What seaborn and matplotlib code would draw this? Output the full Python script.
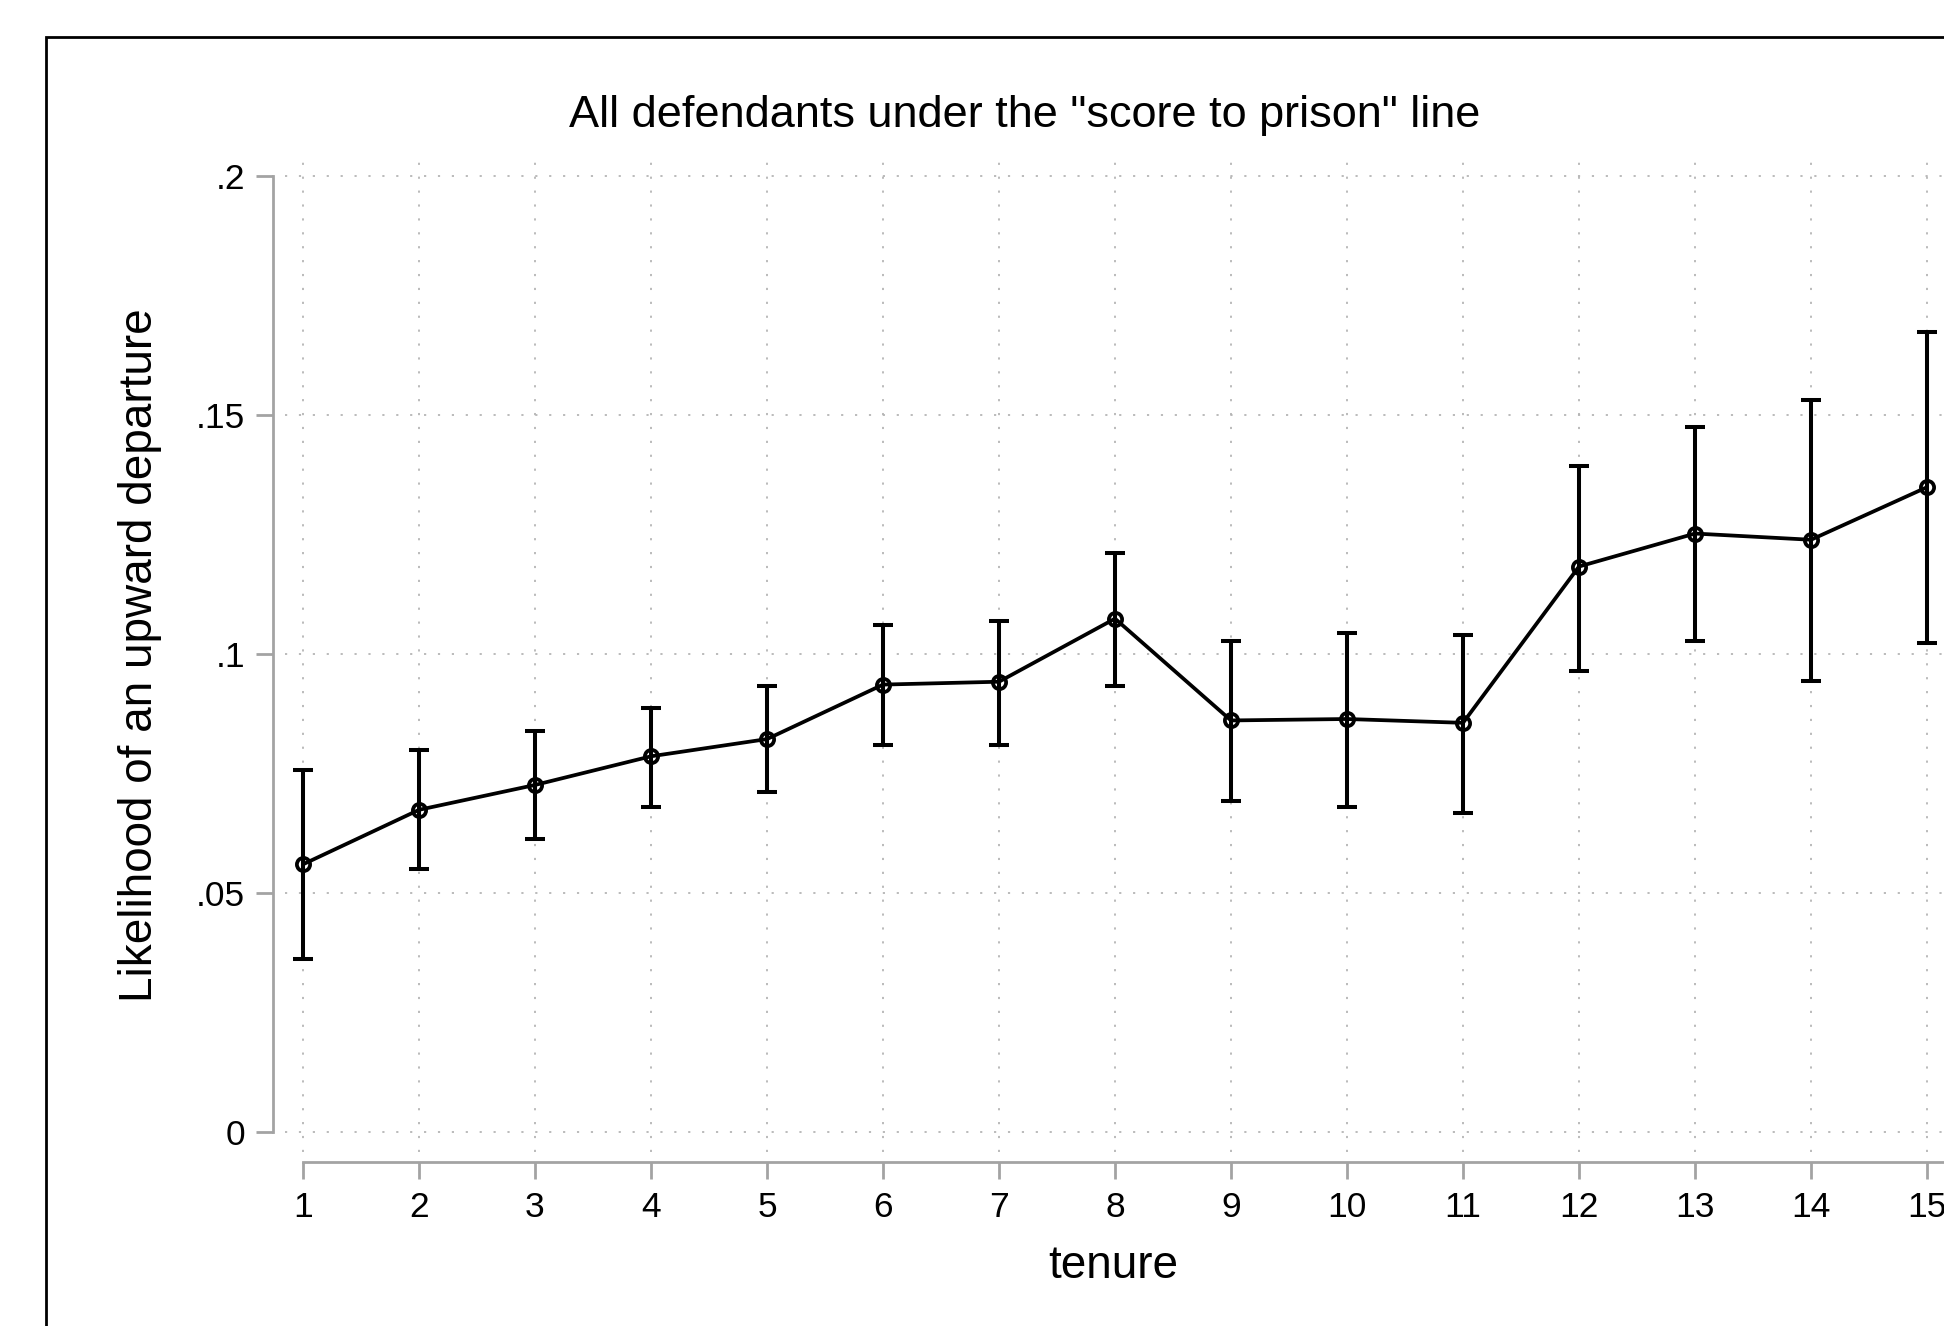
import matplotlib
matplotlib.use("Agg")
import matplotlib.pyplot as plt
import seaborn as sns
import pandas as pd
from matplotlib.patches import Rectangle

tenure = list(range(1, 16))
estimate = [0.0560, 0.0674, 0.0726, 0.0786, 0.0822, 0.0936, 0.0942, 0.1074,
            0.0861, 0.0864, 0.0856, 0.1183, 0.1252, 0.1239, 0.1349]
ci_upper = [0.0757, 0.0799, 0.0838, 0.0887, 0.0934, 0.1061, 0.1069, 0.1211,
            0.1027, 0.1044, 0.1039, 0.1393, 0.1474, 0.1532, 0.1674]
ci_lower = [0.0361, 0.0550, 0.0612, 0.0680, 0.0711, 0.0809, 0.0809, 0.0934,
            0.0693, 0.0680, 0.0668, 0.0965, 0.1027, 0.0943, 0.1024]
y_ticks = [0, 0.05, 0.1, 0.15, 0.2]
y_ticklabels = ["0", ".05", ".1", ".15", ".2"]
title = 'All defendants under the "score to prison" line'
xlabel = "tenure"
ylabel = "Likelihood of an upward departure"

df = pd.DataFrame({"tenure": tenure, "estimate": estimate,
                   "lo": ci_lower, "hi": ci_upper})

sns.set_theme(style="white")
plt.rcParams["font.family"] = ["Liberation Sans", "DejaVu Sans"]
plt.rcParams["text.color"] = "black"

W, H = 1944, 1326
fig = plt.figure(figsize=(W / 100, H / 100), dpi=100)
fig.patch.set_facecolor("white")

# axes placement (pixels)
ax_l, ax_r, ax_t, ax_b = 285, 1944, 155, 1152
ax = fig.add_axes([ax_l / W, 1 - ax_b / H, (ax_r - ax_l) / W, (ax_b - ax_t) / H])

# graph region outline
fig.patches.append(Rectangle((46 / W, -0.1), 1.2, 1 - 37 / H + 0.1,
                             transform=fig.transFigure, fill=False,
                             edgecolor="black", linewidth=2.0, zorder=0))

px_x = 116.0
px_y = 4780.0
ax.set_xlim(1 - (303 - ax_l) / px_x, 15 + (ax_r - 1927) / px_x)
ax.set_ylim(-(ax_b - 1132) / px_y, 0.2 + (176 - ax_t) / px_y)

# error bars
yerr = [df["estimate"] - df["lo"], df["hi"] - df["estimate"]]
ax.errorbar(df["tenure"], df["estimate"], yerr=yerr, fmt="none",
            ecolor="black", elinewidth=2.9, capsize=7.5, capthick=2.9, zorder=3)

sns.lineplot(data=df, x="tenure", y="estimate", ax=ax, color="black",
             linewidth=2.7, marker="o", markersize=9.5,
             markerfacecolor="none", markeredgecolor="black",
             markeredgewidth=2.7, zorder=4)

ax.set_xticks(tenure)
ax.set_xticklabels([str(t) for t in tenure])
ax.set_yticks(y_ticks)
ax.set_yticklabels(y_ticklabels)

grid_style = dict(color="#b5b5b5", linewidth=1.3, linestyle=(0, (1.2, 6.5)))
ax.xaxis.grid(True, **grid_style)
ax.yaxis.grid(True, **grid_style)
ax.set_axisbelow(True)

spine_col = "#a3a3a3"
for s in ["top", "right"]:
    ax.spines[s].set_visible(False)
ax.spines["left"].set_position(("outward", 12 * 0.72))
ax.spines["bottom"].set_position(("outward", 10 * 0.72))
ax.spines["left"].set_bounds(0, 0.2)
ax.spines["bottom"].set_bounds(1, ax.get_xlim()[1])
for s in ["left", "bottom"]:
    ax.spines[s].set_color(spine_col)
    ax.spines[s].set_linewidth(2.0)

ax.tick_params(axis="both", which="major", direction="out", length=12.5,
               width=2.0, color=spine_col, labelsize=25.5, labelcolor="black")
ax.tick_params(axis="x", pad=8.5, bottom=True)
ax.tick_params(axis="y", pad=7.5, left=True)

ax.set_xlabel("")
ax.set_ylabel("")
fig.text(1113 / W, 1 - 1266 / H, xlabel, ha="center", va="center",
         fontsize=33, color="black")
fig.text(140 / W, 1 - 655 / H, ylabel, ha="center", va="center",
         rotation=90, fontsize=33, color="black")
fig.text(1025 / W, 1 - 115 / H, title, ha="center", va="center",
         fontsize=32.5, color="black")

fig.savefig("out.png", dpi=100, facecolor="white")
